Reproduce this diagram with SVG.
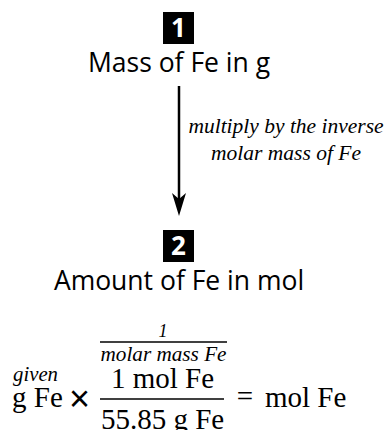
<svg xmlns="http://www.w3.org/2000/svg" width="384" height="430" viewBox="0 0 384 430">
<style>
.num{font-family:"Open Sans","Noto Sans",sans-serif;font-weight:bold;font-size:26px;fill:#fff;text-anchor:middle}
.lbl{font-family:"Open Sans","Noto Sans",sans-serif;font-size:26.5px;fill:#000;text-anchor:middle}
.it{font-family:"Liberation Serif","Times New Roman",serif;font-style:italic;fill:#000}
.rm{font-family:"Liberation Serif","Times New Roman",serif;font-size:29px;fill:#000}
.op{font-family:"Liberation Sans",Arial,sans-serif;font-weight:normal;fill:#000;text-anchor:middle}
.badge{fill:#000}
.conn{stroke:#000;stroke-width:2.5;fill:none}
.frac{stroke:#000;stroke-width:1.5}
</style>
<rect width="384" height="430" fill="#fff"/>
<g id="node1">
<rect class="badge" x="163" y="12" width="31" height="32"/>
<text class="num" x="178.5" y="37">1</text>
<text class="lbl" x="179" y="72">Mass of Fe in g</text>
</g>
<g id="connectors">
<line class="conn" x1="179" y1="86" x2="179" y2="202"/>
<polygon points="179,216 172,193 179,199 186,193" fill="#000"/>
<text class="it" font-size="21.5" text-anchor="middle" x="286" y="133">multiply by the inverse</text>
<text class="it" font-size="21.5" text-anchor="middle" x="286" y="160">molar mass of Fe</text>
</g>
<g id="node2">
<rect class="badge" x="163" y="230" width="31" height="32"/>
<text class="num" x="178.5" y="255">2</text>
<text class="lbl" x="179" y="290">Amount of Fe in mol</text>
</g>
<g id="equation">
<text class="it" font-size="18" text-anchor="middle" x="163" y="337">1</text>
<line class="frac" x1="100" y1="342" x2="227" y2="342"/>
<text class="it" font-size="21" text-anchor="middle" x="163.5" y="361" textLength="126" lengthAdjust="spacingAndGlyphs">molar mass Fe</text>
<text class="it" font-size="21" x="13" y="381" textLength="45" lengthAdjust="spacingAndGlyphs">given</text>
<text class="rm" x="12" y="407">g Fe</text>
<text class="op" font-size="36" x="79.5" y="411">×</text>
<text class="rm" text-anchor="middle" x="162.5" y="388">1 mol Fe</text>
<line class="frac" x1="100" y1="399" x2="224" y2="399"/>
<text class="rm" text-anchor="middle" x="162.5" y="429">55.85 g Fe</text>
<text class="rm" font-size="36" text-anchor="middle" x="245" y="406">=</text>
<text class="rm" x="265" y="407">mol Fe</text>
</g>
</svg>
